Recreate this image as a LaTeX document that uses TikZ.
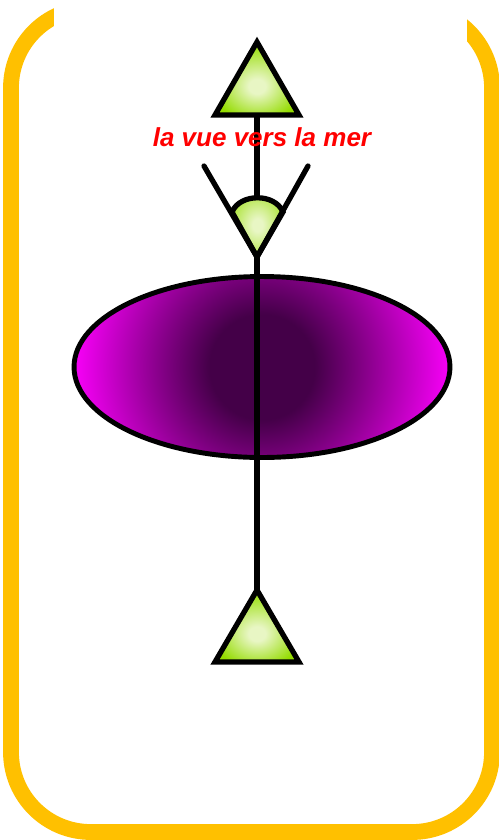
\documentclass[tikz,border=0pt]{standalone}
\usepackage{fontspec}
\setmainfont{Liberation Sans}
\usepackage{xcolor}
\usetikzlibrary{shapes,arrows,positioning,calc,shapes.geometric}
\definecolor{framegold}{HTML}{FFC000}
\definecolor{pointlime}{HTML}{94DC00}
\definecolor{pointpale}{HTML}{E8F6C4}
\definecolor{lensdark}{HTML}{440048}
\definecolor{lensedge}{HTML}{F800F8}
\pgfdeclareradialshading{pointglow}{\pgfpoint{0bp}{-6bp}}{color(0bp)=(pointpale); color(5bp)=(pointpale); color(27bp)=(pointlime); color(50bp)=(pointlime)}
\pgfdeclareradialshading{eyeglow}{\pgfpoint{0bp}{0bp}}{color(0bp)=(pointpale); color(5bp)=(pointpale); color(36bp)=(pointlime); color(50bp)=(pointlime)}
\pgfdeclareradialshading{lensglow}{\pgfpoint{0bp}{0bp}}{color(0bp)=(lensdark); color(7bp)=(lensdark); color(25bp)=(lensedge); color(50bp)=(lensedge)}

\begin{document}
\begin{tikzpicture}[
    x=0.02cm, y=-0.02cm,
    frameline/.style={draw=framegold, line width=9pt, rounded corners=45.4pt},
    point/.style={draw=black, line width=3pt, line join=miter, shading=pointglow},
    axisline/.style={draw=black, line width=2.9pt},
    lens/.style={ellipse, draw=black, line width=2.8pt, minimum width=7.52cm, minimum height=3.62cm, inner sep=0pt,
        path picture={\shade[shading=lensglow] (path picture bounding box.center) circle (188);}},
    caption/.style={text=red, font=\fontsize{14.8}{16}\selectfont\bfseries\itshape}
]
\useasboundingbox (0,0) rectangle (498,840);
\fill[white] (0,0) rectangle (498,840);

% Frame
\draw[frameline] (11,8) rectangle (492,832);
\fill[white] (54,0) rectangle (467,50);

% Points
\coordinate (topApex) at (257,42);
\coordinate (topLeft) at (215,115);
\coordinate (topRight) at (299,115);
\coordinate (topBase) at (257,115);
\coordinate (lowApex) at (257,590);
\coordinate (lowLeft) at (215,662);
\coordinate (lowRight) at (299,662);
\coordinate (eyeTip) at (257,257);
\coordinate (eyeLeft) at (204,166);
\coordinate (eyeRight) at (308,166);
\coordinate (arcLeft) at (232,212);
\coordinate (arcRight) at (283,212);
\coordinate (arcTop) at (257,199);

% Lens
\node[lens] (seaLens) at (262,367) {};

% Axis
\draw[axisline] (topBase) -- (arcTop);
\draw[axisline] (eyeTip) -- (lowApex);

% Triangles
\path[point] (topApex) -- (topRight) -- (topLeft) -- cycle;
\path[point] (lowApex) -- (lowRight) -- (lowLeft) -- cycle;

% Eye
\path[point, shading=eyeglow] (eyeTip) -- (arcLeft) .. controls (240,193) and (275,193) .. (arcRight) -- cycle;
\draw[axisline, line width=3pt, line cap=round] (eyeLeft) -- (eyeTip) -- (eyeRight);

% Label
\node[caption] (seaLabel) at (262,137) {la vue vers la mer};

\end{tikzpicture}
\end{document}
